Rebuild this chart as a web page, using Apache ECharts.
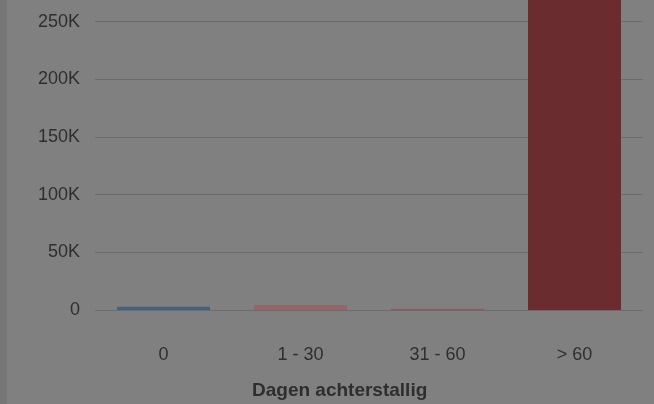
<!DOCTYPE html>
<html>
<head>
<meta charset="utf-8">
<script src="https://cdn.jsdelivr.net/npm/echarts@6/dist/echarts.min.js"></script>
<style>
html,body{margin:0;padding:0;background:#808080;overflow:hidden;width:654px;height:404px;}
#c{position:absolute;left:0;top:-36px;width:654px;height:440px;}
</style>
</head>
<body>
<div id="c"></div>
<script>
const categories = ['0', '1 - 30', '31 - 60', '> 60'];
const values = [2900, 4400, 1000, 295000];
const barColors = ['#43617f', '#936769', '#93585c', '#6b2c30'];
const xAxisTitle = 'Dagen achterstallig';

const chart = echarts.init(document.getElementById('c'), null, {renderer: 'canvas'});
chart.setOption({
  backgroundColor: '#808080',
  animation: false,
  textStyle: {fontFamily: 'Liberation Sans, Arial, sans-serif'},
  graphic: [
    {type: 'rect', left: 0, top: 0, shape: {width: 7, height: 440}, style: {fill: '#767676'}, z: 0},
    {type: 'text', left: 252, top: 417, style: {text: xAxisTitle, fill: '#2e2e2e', font: 'bold 19px "Liberation Sans", Arial, sans-serif'}}
  ],
  grid: {left: 95, right: 11, top: 0, bottom: 94, containLabel: false, outerBoundsMode: 'none'},
  xAxis: {
    type: 'category',
    data: categories,
    axisLine: {show: false},
    axisTick: {show: false},
    axisLabel: {color: '#2e2e2e', fontSize: 18, margin: 36, fontFamily: 'Liberation Sans, Arial, sans-serif'}
  },
  yAxis: {
    type: 'value',
    min: 0, max: 300000, interval: 50000,
    axisLine: {show: false},
    axisTick: {show: false},
    splitLine: {lineStyle: {color: '#6b6b6b', width: 1}},
    axisLabel: {
      color: '#2e2e2e', fontSize: 18, margin: 15, fontFamily: 'Liberation Sans, Arial, sans-serif',
      formatter: v => v === 0 ? '0' : (v / 1000) + 'K'
    }
  },
  series: [{
    type: 'bar',
    barWidth: 93,
    data: values.map((v, i) => ({value: v, itemStyle: {color: barColors[i]}}))
  }]
});
</script>
</body>
</html>
